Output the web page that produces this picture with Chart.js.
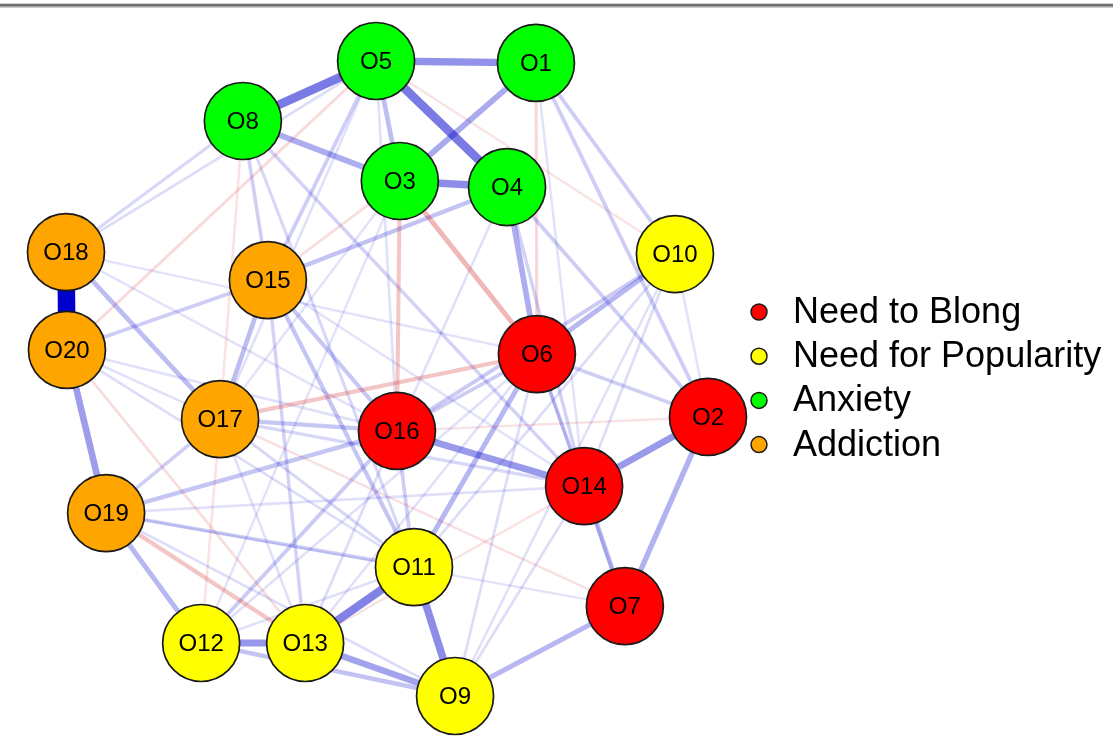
<!DOCTYPE html>
<html><head><meta charset="utf-8">
<script src="https://cdn.jsdelivr.net/npm/chart.js@4.4.1/dist/chart.umd.min.js"></script>
<style>html,body{margin:0;padding:0;background:#fff;}#wrap{width:1113px;height:740px;}</style>
</head><body><div id="wrap"><canvas id="c" width="1113" height="740"></canvas></div>
<script>
// ---- data ----
const nodeNames = ["O1","O2","O3","O4","O5","O6","O7","O8","O9","O10","O11","O12","O13","O14","O15","O16","O17","O18","O19","O20"];
// 0 Need to Blong, 1 Need for Popularity, 2 Anxiety, 3 Addiction
const nodeGroup = [2,0,2,2,2,0,0,2,1,1,1,1,1,0,3,0,3,3,3,3];
const nodeX = [0.464,1.000,0.040,0.374,-0.034,0.467,0.741,-0.449,0.212,0.897,0.084,-0.579,-0.255,0.614,-0.371,0.031,-0.520,-1.000,-0.875,-0.997];
const nodeY = [0.994,-0.121,0.622,0.603,1.000,0.077,-0.717,0.811,-1.000,0.392,-0.594,-0.833,-0.833,-0.339,0.310,-0.165,-0.128,0.398,-0.424,0.090];
const groupNames = ["Need to Blong","Need for Popularity","Anxiety","Addiction"];
const edgeFrom = [18,5,4,1,3,11,9,12,19,14,2,1,3,4,6,10,9,9,2,7,7,12,17,15,11,15,4,15,5,3,8,8,5,8,8,6,6,6,2,6,1,1,2,4,16,14,16,11,12,11,17,13,11,11,9,14,9,9,9,10,2,12,17,18,18,20,20,3,3,4,5,5,1,15,19,13,13,12,10,
  3,3,6,1,13,5,13,5,2,7,12,8,3,13];
const edgeTo = [20,8,5,5,4,13,11,13,20,16,14,3,8,6,10,16,13,12,7,9,14,19,18,17,15,16,15,20,15,5,15,18,18,14,11,11,14,7,6,16,10,2,4,14,17,17,19,16,16,19,19,15,17,20,19,19,14,6,10,11,10,6,13,6,16,16,17,17,12,16,16,17,14,14,7,16,6,11,14,
  6,16,17,6,19,20,20,10,16,17,17,17,15,14];
const edgeWeight = [1.0,0.45,0.45,0.36,0.38,0.42,0.38,0.34,0.32,0.33,0.33,0.27,0.26,0.26,0.22,0.15,0.30,0.18,0.24,0.22,0.20,0.22,0.20,0.20,0.17,0.16,0.18,0.14,0.14,0.20,0.13,0.10,0.08,0.12,0.10,0.22,0.14,0.10,0.13,0.14,0.14,0.14,0.14,0.12,0.16,0.10,0.17,0.14,0.15,0.13,0.13,0.12,0.10,0.08,0.08,0.07,0.08,0.08,0.07,0.08,0.06,0.07,0.07,0.06,0.06,0.07,0.07,0.06,0.06,0.07,0.07,0.07,0.06,0.06,0.06,0.08,0.07,0.07,0.08,
  -0.22,-0.16,-0.17,-0.10,-0.17,-0.09,-0.08,-0.06,-0.06,-0.07,-0.06,-0.06,-0.08,-0.06];

// ---- styles ----
const groupColors = ["#FF0000","#FFFF00","#00FF00","#FFA500"];
const FONT = "'Liberation Sans', Arial, sans-serif";

const datasets = groupNames.map((g, gi) => ({
  label: g,
  data: nodeNames.map((n, i) => ({x: nodeX[i], y: nodeY[i], name: n, grp: nodeGroup[i]})).filter(p => p.grp === gi),
  backgroundColor: groupColors[gi],
  borderColor: "#1a1a1a",
  borderWidth: 1.7,
  pointRadius: 38.5,
  pointHoverRadius: 38.5,
  clip: false
}));

const topRule = {
  id: "topRule",
  beforeDraw(chart) {
    const ctx = chart.ctx;
    ctx.save();
    ctx.fillStyle = "#d0d0d0";
    ctx.fillRect(0, 3, chart.width, 5);
    ctx.fillStyle = "#707070";
    ctx.fillRect(0, 4, chart.width, 2.5);
    ctx.restore();
  }
};

const edgesPlugin = {
  id: "edges",
  beforeDatasetsDraw(chart) {
    const ctx = chart.ctx, xs = chart.scales.x, ys = chart.scales.y;
    const idx = edgeWeight.map((w, i) => i).sort((a, b) => Math.abs(edgeWeight[a]) - Math.abs(edgeWeight[b]));
    ctx.save();
    ctx.lineCap = "butt";
    idx.forEach(i => {
      const w = edgeWeight[i];
      const a = nodeNames.indexOf("O" + edgeFrom[i]);
      const b = nodeNames.indexOf("O" + edgeTo[i]);
      const aw = Math.abs(w);
      const alpha = Math.min(1, 0.05 + 1.05 * aw);
      ctx.strokeStyle = w > 0 ? `rgba(0,0,205,${alpha})` : `rgba(205,0,0,${alpha})`;
      ctx.lineWidth = Math.min(18, Math.max(2, 1.5 + 16 * aw));
      ctx.beginPath();
      ctx.moveTo(xs.getPixelForValue(nodeX[a]), ys.getPixelForValue(nodeY[a]));
      ctx.lineTo(xs.getPixelForValue(nodeX[b]), ys.getPixelForValue(nodeY[b]));
      ctx.stroke();
    });
    ctx.restore();
  }
};

const labelsPlugin = {
  id: "nodeLabels",
  afterDatasetsDraw(chart) {
    const ctx = chart.ctx, xs = chart.scales.x, ys = chart.scales.y;
    ctx.save();
    ctx.fillStyle = "#000";
    ctx.font = "24px " + FONT;
    ctx.textAlign = "center";
    ctx.textBaseline = "middle";
    nodeNames.forEach((n, i) => {
      ctx.fillText(n, xs.getPixelForValue(nodeX[i]), ys.getPixelForValue(nodeY[i]) + 1);
    });
    ctx.restore();
  }
};

const legendPlugin = {
  id: "groupLegend",
  afterDraw(chart) {
    const ctx = chart.ctx;
    ctx.save();
    groupNames.forEach((g, i) => {
      const cy = 312 + i * 44.2;
      ctx.beginPath();
      ctx.arc(759, cy, 8, 0, Math.PI * 2);
      ctx.fillStyle = groupColors[i];
      ctx.fill();
      ctx.lineWidth = 1.5;
      ctx.strokeStyle = "#1a1a1a";
      ctx.stroke();
      ctx.fillStyle = "#000";
      ctx.font = "36px " + FONT;
      ctx.textAlign = "left";
      ctx.textBaseline = "middle";
      ctx.fillText(g, 793, cy + 1);
    });
    ctx.restore();
  }
};

new Chart(document.getElementById("c"), {
  type: "scatter",
  data: { datasets },
  options: {
    responsive: false,
    animation: false,
    devicePixelRatio: 1,
    layout: { padding: { left: 66, right: 405, top: 61, bottom: 44 } },
    scales: {
      x: { type: "linear", min: -1, max: 1, display: false },
      y: { type: "linear", min: -1, max: 1, display: false }
    },
    plugins: { legend: { display: false }, tooltip: { enabled: false } },
    events: []
  },
  plugins: [topRule, edgesPlugin, labelsPlugin, legendPlugin]
});
</script>
</body></html>
